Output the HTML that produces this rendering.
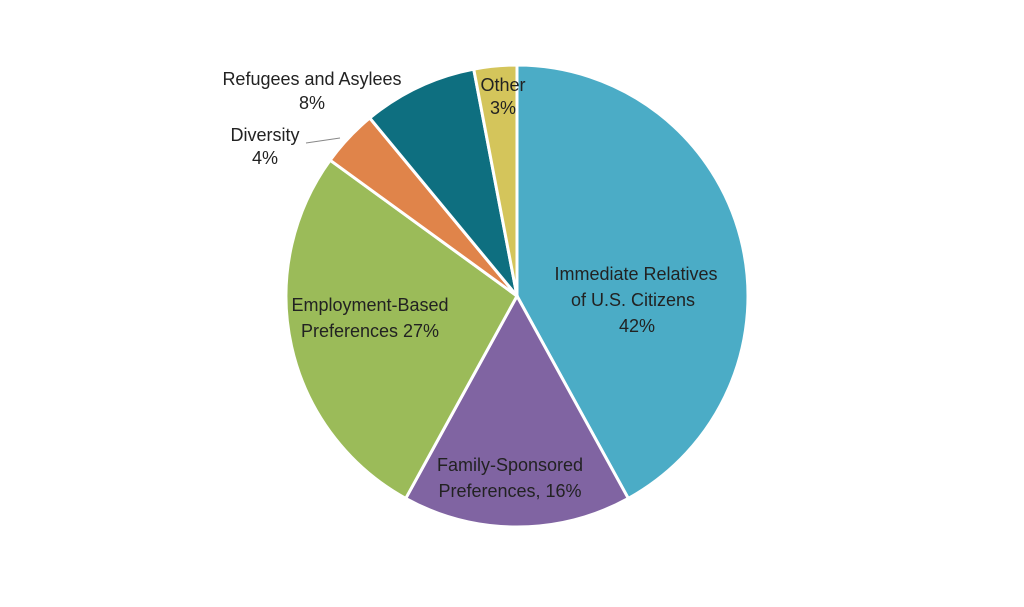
<!DOCTYPE html>
<html><head><meta charset="utf-8"><style>
body{margin:0;background:#fff;width:1024px;height:602px;overflow:hidden}
svg text{font-family:"Liberation Sans",sans-serif;font-size:18px;fill:#222;text-anchor:middle}
</style></head><body>
<svg id="chart" width="1024" height="602" viewBox="0 0 1024 602">
<g id="slices"></g>
<line x1="306" y1="143" x2="340" y2="138" stroke="#888" stroke-width="1"/>
<g id="labels">
<text x="636" y="280">Immediate Relatives</text>
<text x="633" y="306">of U.S. Citizens</text>
<text x="637" y="332">42%</text>
<text x="510" y="471">Family-Sponsored</text>
<text x="510" y="497">Preferences, 16%</text>
<text x="370" y="311">Employment-Based</text>
<text x="370" y="337">Preferences 27%</text>
<text x="265" y="141">Diversity</text>
<text x="265" y="164">4%</text>
<text x="312" y="85">Refugees and Asylees</text>
<text x="312" y="109">8%</text>
<text x="503" y="91">Other</text>
<text x="503" y="114">3%</text>
</g>
</svg>
<script>
const categories = ["Immediate Relatives","Family-Sponsored","Employment-Based","Diversity","Refugees and Asylees","Other"];
const values = [42,16,27,4,8,3];
const colors = ["#4BACC6","#8064A2","#9BBB59","#E0844A","#0E6F80","#D4C55B"];
const cx=517, cy=296, r=231;
const total = values.reduce((a,b)=>a+b,0);
const g = document.getElementById('slices');
let a0 = -Math.PI/2;
values.forEach((v,i)=>{
  const a1 = a0 + v/total*2*Math.PI;
  const x0=cx+r*Math.cos(a0), y0=cy+r*Math.sin(a0), x1=cx+r*Math.cos(a1), y1=cy+r*Math.sin(a1);
  const large = (a1-a0)>Math.PI?1:0;
  const p = document.createElementNS('http://www.w3.org/2000/svg','path');
  p.setAttribute('d',`M${cx},${cy}L${x0},${y0}A${r},${r} 0 ${large} 1 ${x1},${y1}Z`);
  p.setAttribute('fill',colors[i]);
  p.setAttribute('stroke','#fff');
  p.setAttribute('stroke-width','3');
  
  
  g.appendChild(p);
  a0 = a1;
});
</script>
</body></html>
